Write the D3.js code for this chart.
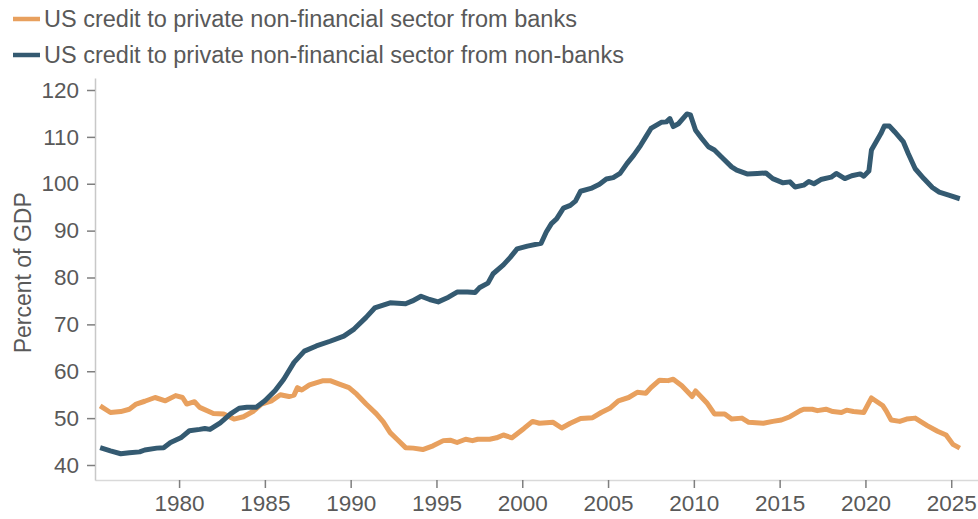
<!DOCTYPE html>
<html>
<head>
<meta charset="utf-8">
<script src="https://cdn.jsdelivr.net/npm/d3@7"></script>
<style>
  body { margin: 0; background: #fff; }
  svg { display: block; font-family: "Liberation Sans", Arial, sans-serif; }
</style>
</head>
<body>
<div id="chart"></div>
<script>
// values (decimal year, percent of GDP)
var seriesNames = [
  "US credit to private non-financial sector from banks",
  "US credit to private non-financial sector from non-banks"
];
var seriesColors = ["#e8a05e", "#345a71"];

var bankYears = [1975.4, 1976.0, 1976.6, 1977.1, 1977.5, 1978.0, 1978.6, 1979.2, 1979.8, 1980.2,
  1980.45, 1980.9, 1981.2, 1982.0, 1982.6, 1983.2, 1983.75, 1984.3, 1984.8, 1985.4,
  1985.9, 1986.4, 1986.7, 1986.9, 1987.15, 1987.6, 1988.4, 1988.8, 1989.3, 1989.9,
  1990.35, 1990.9, 1991.5, 1991.9, 1992.3, 1992.7, 1993.2, 1993.65, 1994.2, 1994.8,
  1995.4, 1995.8, 1996.2, 1996.7, 1997.1, 1997.4, 1998.1, 1998.5, 1998.9, 1999.4,
  2000.1, 2000.6, 2001.0, 2001.8, 2002.3, 2002.8, 2003.4, 2004.1, 2004.6, 2005.1,
  2005.6, 2006.2, 2006.7, 2007.2, 2007.5, 2008.0, 2008.5, 2008.8, 2009.3, 2009.9,
  2010.1, 2010.75, 2011.2, 2011.8, 2012.2, 2012.8, 2013.2, 2014.05, 2014.6, 2015.1,
  2015.6, 2016.2, 2016.4, 2016.9, 2017.2, 2017.7, 2018.1, 2018.6, 2018.9, 2019.3,
  2019.9, 2020.35, 2021.0, 2021.2, 2021.5, 2022.0, 2022.4, 2022.9, 2023.6, 2024.2,
  2024.7, 2025.1, 2025.5];
var bankValues = [52.6, 51.2, 51.4, 51.9, 53.0, 53.6, 54.4, 53.7, 54.8, 54.4,
  53.0, 53.5, 52.3, 51.0, 50.9, 49.8, 50.3, 51.4, 53.0, 53.7,
  55.0, 54.6, 54.9, 56.5, 56.0, 57.1, 58.0, 58.0, 57.3, 56.5,
  55.1, 53.0, 50.9, 49.2, 46.9, 45.5, 43.7, 43.6, 43.3, 44.1,
  45.2, 45.3, 44.8, 45.5, 45.2, 45.5, 45.5, 45.8, 46.4, 45.8,
  47.8, 49.3, 48.9, 49.1, 47.9, 48.9, 49.9, 50.1, 51.2, 52.1,
  53.7, 54.4, 55.5, 55.3, 56.5, 58.1, 58.0, 58.3, 56.9, 54.6,
  55.8, 53.3, 50.9, 50.9, 49.8, 50.0, 49.1, 48.9, 49.3, 49.6,
  50.3, 51.6, 51.9, 51.9, 51.6, 51.9, 51.4, 51.2, 51.7, 51.4,
  51.2, 54.3, 52.7, 51.6, 49.6, 49.3, 49.8, 50.0, 48.4, 47.2,
  46.4, 44.4, 43.6];

var nonBankYears = [1975.4, 1976.0, 1976.6, 1977.1, 1977.7, 1978.0, 1978.7, 1979.1, 1979.5, 1980.1,
  1980.6, 1981.2, 1981.5, 1981.8, 1982.4, 1983.0, 1983.5, 1983.95, 1984.5, 1985.0,
  1985.6, 1986.1, 1986.7, 1987.3, 1988.0, 1988.8, 1989.6, 1990.2, 1990.9, 1991.4,
  1992.3, 1993.2, 1993.6, 1994.1, 1994.6, 1995.1, 1995.7, 1996.2, 1996.8, 1997.25,
  1997.5, 1998.0, 1998.3, 1998.9, 1999.3, 1999.7, 2000.3, 2001.1, 2001.4, 2001.7,
  2002.0, 2002.4, 2002.8, 2003.1, 2003.4, 2004.0, 2004.5, 2004.9, 2005.3, 2005.7,
  2006.1, 2006.5, 2006.9, 2007.2, 2007.5, 2008.1, 2008.4, 2008.6, 2008.8, 2009.1,
  2009.6, 2009.8, 2010.1, 2010.45, 2010.85, 2011.2, 2011.7, 2012.2, 2012.5, 2013.1,
  2013.7, 2014.2, 2014.6, 2015.2, 2015.6, 2015.9, 2016.4, 2016.7, 2017.0, 2017.4,
  2018.0, 2018.3, 2018.8, 2019.2, 2019.7, 2019.9, 2020.2, 2020.35, 2020.9, 2021.1,
  2021.4, 2021.7, 2022.2, 2022.5, 2022.9, 2023.4, 2023.9, 2024.3, 2024.9, 2025.5];
var nonBankValues = [43.7, 43.0, 42.4, 42.6, 42.8, 43.2, 43.6, 43.7, 44.8, 45.8,
  47.3, 47.6, 47.8, 47.6, 49.0, 50.9, 52.1, 52.3, 52.3, 53.7,
  55.9, 58.3, 61.9, 64.3, 65.4, 66.4, 67.5, 69.0, 71.5, 73.5,
  74.6, 74.4, 75.0, 76.0, 75.3, 74.8, 75.8, 76.9, 76.9, 76.8,
  77.8, 78.8, 80.8, 82.7, 84.3, 86.1, 86.7, 87.3, 89.7, 91.5,
  92.5, 94.8, 95.4, 96.3, 98.4, 99.0, 99.9, 101.0, 101.3, 102.2,
  104.3, 106.1, 108.2, 110.0, 111.8, 113.1, 113.2, 113.9, 112.2, 112.8,
  114.9, 114.7, 111.4, 109.7, 107.9, 107.2, 105.4, 103.6, 102.9, 102.1,
  102.2, 102.3, 101.1, 100.2, 100.4, 99.3, 99.7, 100.5, 100.0, 100.9,
  101.4, 102.2, 101.1, 101.7, 102.1, 101.6, 102.7, 107.2, 110.7, 112.3,
  112.3, 111.1, 109.0, 106.4, 103.2, 101.1, 99.2, 98.2, 97.5, 96.8];

var xTicks = [1980, 1985, 1990, 1995, 2000, 2005, 2010, 2015, 2020, 2025];
var yTicks = [40, 50, 60, 70, 80, 90, 100, 110, 120];

var width = 978, height = 519;
var margin = { top: 78, right: 0, bottom: 39, left: 95 };

var svg = d3.select("#chart").append("svg")
  .attr("width", width)
  .attr("height", height);

var x = d3.scaleLinear().domain([1975.1, 2026.56]).range([margin.left, width - margin.right]);
var y = d3.scaleLinear().domain([36.8, 122.56]).range([height - margin.bottom, margin.top]);

// x axis
var xAxis = svg.append("g")
  .attr("transform", "translate(0," + (height - margin.bottom) + ")")
  .call(d3.axisBottom(x).tickValues(xTicks).tickFormat(d3.format("d")).tickSize(8).tickPadding(7).tickSizeOuter(0));
xAxis.select(".domain").attr("stroke", "#d9d9d9").attr("stroke-width", 1.5);
xAxis.selectAll(".tick line").attr("stroke", "#7f7f7f").attr("stroke-width", 1.5);
xAxis.selectAll(".tick text").attr("fill", "#595959").style("font-size", "22.5px");

// y axis
var yAxis = svg.append("g")
  .attr("transform", "translate(" + margin.left + ",0)")
  .call(d3.axisLeft(y).tickValues(yTicks).tickSize(8).tickPadding(8).tickSizeOuter(0));
yAxis.select(".domain").attr("stroke", "#c8c8c8").attr("stroke-width", 1.5);
yAxis.selectAll(".tick line").attr("stroke", "#7f7f7f").attr("stroke-width", 1.5);
yAxis.selectAll(".tick text").attr("fill", "#595959").style("font-size", "22.5px");

svg.append("text")
  .attr("transform", "translate(31," + y(81) + ") rotate(-90)")
  .attr("text-anchor", "middle")
  .attr("fill", "#595959")
  .style("font-size", "23px")
  .text("Percent of GDP");

// lines
var line = d3.line()
  .x(function (d) { return x(d[0]); })
  .y(function (d) { return y(d[1]); });

var series = [
  d3.zip(bankYears, bankValues),
  d3.zip(nonBankYears, nonBankValues)
];

svg.selectAll(".series")
  .data(series)
  .enter()
  .append("path")
  .attr("class", "series")
  .attr("d", line)
  .attr("fill", "none")
  .attr("stroke", function (d, i) { return seriesColors[i]; })
  .attr("stroke-width", 5)
  .attr("stroke-linejoin", "round");

// legend
var legend = svg.selectAll(".legend")
  .data(seriesNames)
  .enter()
  .append("g")
  .attr("class", "legend")
  .attr("transform", function (d, i) { return "translate(13," + (19 + i * 36) + ")"; });

legend.append("line")
  .attr("x1", 0).attr("x2", 27)
  .attr("stroke", function (d, i) { return seriesColors[i]; })
  .attr("stroke-width", 4.5);

legend.append("text")
  .attr("x", 31)
  .attr("dy", "0.35em")
  .attr("fill", "#595959")
  .style("font-size", "23.5px")
  .text(function (d) { return d; });
</script>
</body>
</html>
